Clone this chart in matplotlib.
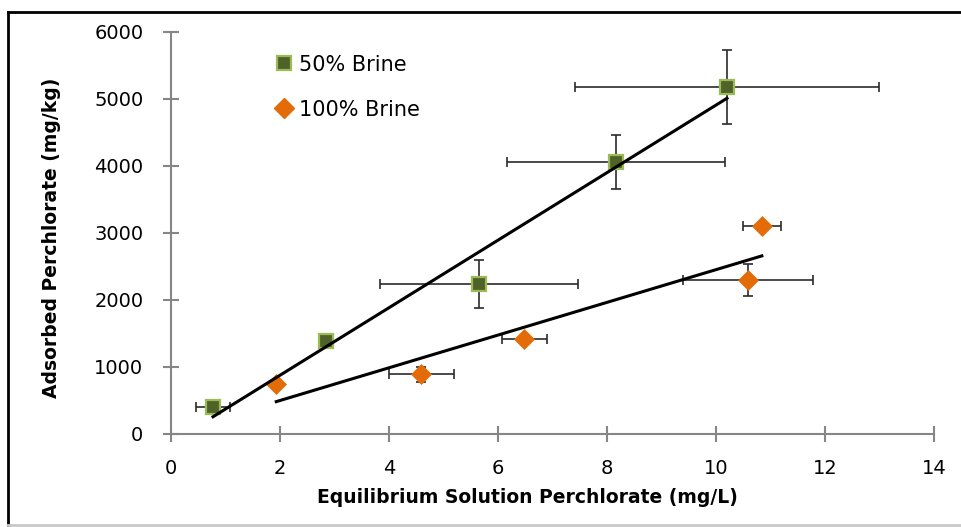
import numpy as np
import matplotlib.pyplot as plt
from matplotlib.lines import Line2D

plt.rcParams['font.family'] = ['DejaVu Sans']

# 50% brine series
x50 = [0.77, 2.84, 5.65, 8.17, 10.20]
y50 = [403, 1388, 2239, 4060, 5179]
xerr50 = [0.32, 0.0, 1.82, 2.00, 2.79]
yerr50 = [0, 0, 360, 398, 555]

# 100% brine series
x100 = [1.93, 4.59, 6.48, 10.59, 10.84]
y100 = [746, 891, 1418, 2298, 3109]
xerr100 = [0.0, 0.60, 0.41, 1.19, 0.35]
yerr100 = [0, 110, 0, 235, 0]

green_face = "#4f6228"
green_edge = "#9bbb59"
orange = "#e36c09"
axis_grey = "#868686"

fig = plt.figure(figsize=(9.61, 5.27), dpi=100)
ax = fig.add_axes([0.178, 0.1765, 0.794, 0.763])

eb_kw = dict(fmt="none", ecolor="#2b2b2b", elinewidth=1.2, capsize=3.6, capthick=1.2, zorder=2)
ax.errorbar(x50, y50, xerr=xerr50, yerr=yerr50, **eb_kw)
ax.errorbar(x100, y100, xerr=xerr100, yerr=yerr100, **eb_kw)

ax.plot(x50, y50, linestyle="none", marker="s", markersize=10,
        markerfacecolor=green_face, markeredgecolor=green_edge, markeredgewidth=1.6, zorder=3)
ax.plot(x100, y100, linestyle="none", marker="D", markersize=10.5,
        markerfacecolor=orange, markeredgecolor=orange, markeredgewidth=0.5, zorder=3)

# linear trendlines over the range of each series
for xs, ys in [(x50, y50), (x100, y100)]:
    m, b = np.polyfit(xs, ys, 1)
    xl = np.array([min(xs), max(xs)])
    ax.plot(xl, m * xl + b, color="black", linewidth=2.2, zorder=4)

ax.set_xlim(0, 14)
ax.set_ylim(0, 6000)
ax.set_xticks(range(0, 15, 2))
ax.set_yticks(range(0, 6001, 1000))
for side in ["top", "right"]:
    ax.spines[side].set_visible(False)
for side in ["left", "bottom"]:
    ax.spines[side].set_color(axis_grey)
    ax.spines[side].set_linewidth(1.5)
ax.tick_params(direction="inout", length=12, width=1.5, color=axis_grey,
               labelsize=14)
ax.tick_params(axis="y", pad=14)
ax.tick_params(axis="x", pad=12)

ax.set_xlabel("Equilibrium Solution Perchlorate (mg/L)", fontsize=13.5,
              fontweight="bold", labelpad=7, x=0.467)
ax.set_ylabel("Adsorbed Perchlorate (mg/kg)", fontsize=13.5,
              fontweight="bold", labelpad=24, y=0.488)

handles = [
    Line2D([], [], linestyle="none", marker="s", markersize=10,
           markerfacecolor=green_face, markeredgecolor=green_edge, markeredgewidth=1.6),
    Line2D([], [], linestyle="none", marker="D", markersize=10.5,
           markerfacecolor=orange, markeredgecolor=orange),
]
ax.legend(handles, ["50% Brine", "100% Brine"], loc="upper left",
          bbox_to_anchor=(0.113, 0.99), frameon=False, fontsize=15,
          labelspacing=1.2, handlelength=0.8, handletextpad=0.3)

# outer border of the chart area
fig.add_artist(Line2D([0.0083, 1.0], [0.977, 0.977], color="black", linewidth=2, transform=fig.transFigure))
fig.add_artist(Line2D([0.0083, 0.0083], [0.003, 0.977], color="black", linewidth=2, transform=fig.transFigure))
fig.add_artist(Line2D([0.0083, 1.0], [0.003, 0.003], color="#c8c8c8", linewidth=2, transform=fig.transFigure))

fig.savefig("out.png", dpi=100)
